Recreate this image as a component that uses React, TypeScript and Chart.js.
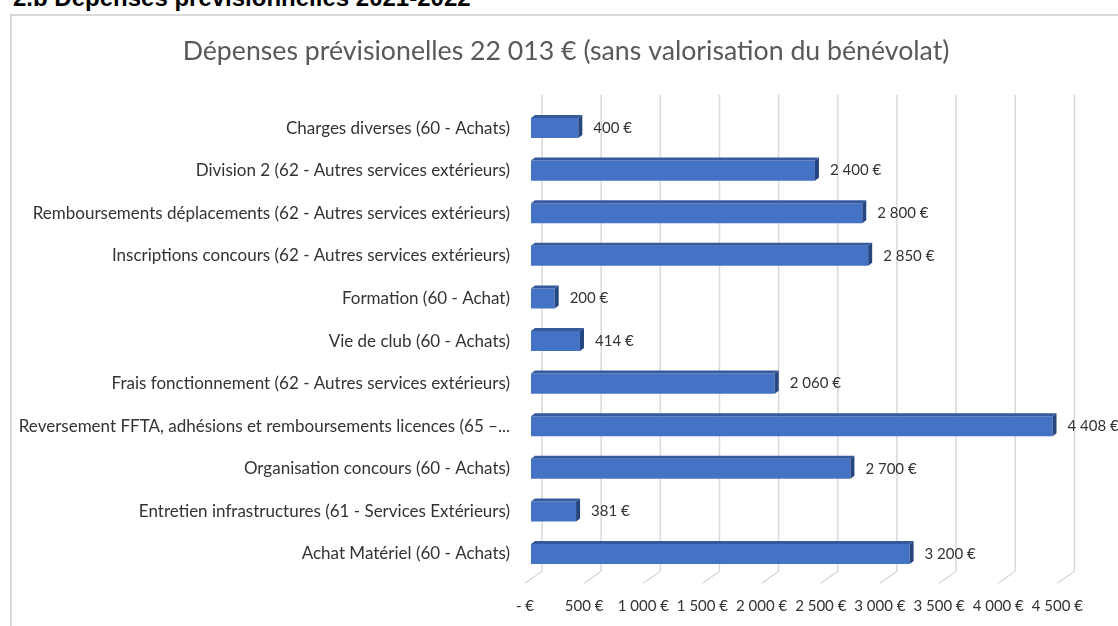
import React, { useEffect, useRef } from "react";
import { Chart, registerables } from "chart.js";

Chart.register(...registerables);

const pageHeading = "2.b Dépenses prévisionnelles 2021-2022";
const chartTitle = "Dépenses prévisionelles 22 013 € (sans valorisation du bénévolat)";

const categories = [
  "Charges diverses (60 - Achats)",
  "Division 2 (62 - Autres services extérieurs)",
  "Remboursements déplacements (62 - Autres services extérieurs)",
  "Inscriptions concours (62 - Autres services extérieurs)",
  "Formation (60 - Achat)",
  "Vie de club (60 - Achats)",
  "Frais fonctionnement (62 - Autres services extérieurs)",
  "Reversement FFTA, adhésions et remboursements licences (65 –...",
  "Organisation concours (60 - Achats)",
  "Entretien infrastructures (61 - Services Extérieurs)",
  "Achat Matériel (60 - Achats)",
];

const values = [400, 2400, 2800, 2850, 200, 414, 2060, 4408, 2700, 381, 3200];

const tickValues = [0, 500, 1000, 1500, 2000, 2500, 3000, 3500, 4000, 4500];
const tickLabels = [
  "- €",
  "500 €",
  "1 000 €",
  "1 500 €",
  "2 000 €",
  "2 500 €",
  "3 000 €",
  "3 500 €",
  "4 000 €",
  "4 500 €",
];

// the plot area runs on past the visible right edge (the chart box is cut off)
const X_MAX = 5080;

const FONT = "Lato";
const TEXT_COLOR = "#333333";
const NUM_SIZE = 15;
const CAT_SIZE = 17;

const CANVAS_W = 1132;
const CANVAS_H = 626;

function fmtEuro(v: number): string {
  return String(v).replace(/\B(?=(\d{3})+(?!\d))/g, " ") + " €";
}

const grid3d = {
  id: "grid3d",
  beforeDatasetsDraw(chart: any) {
    const { ctx, chartArea, scales } = chart;
    const x = scales.x;
    ctx.save();
    for (const v of tickValues) {
      const px = x.getPixelForValue(v);
      const bx = px + 11;
      ctx.strokeStyle = "#d9d9d9";
      ctx.lineWidth = 1.5;
      ctx.beginPath();
      ctx.moveTo(bx, chartArea.top - 12);
      ctx.lineTo(bx, chartArea.bottom - 4);
      ctx.stroke();
      ctx.strokeStyle = "#c4c4c4";
      ctx.lineWidth = 1;
      ctx.beginPath();
      ctx.moveTo(bx, chartArea.bottom - 4);
      ctx.lineTo(px - 6, chartArea.bottom + 8);
      ctx.stroke();
    }
    ctx.restore();
  },
};

const bar3d = {
  id: "bar3d",
  afterDatasetsDraw(chart: any) {
    const meta = chart.getDatasetMeta(0);
    const ctx = chart.ctx;
    ctx.save();
    meta.data.forEach((el: any, i: number) => {
      const { x, y, base, height } = el.getProps(["x", "y", "base", "height"], true);
      const top = y - height / 2;
      const bot = y + height / 2;
      const dx = 4;
      const dy = 3;
      ctx.fillStyle = "#35599c";
      ctx.beginPath();
      ctx.moveTo(base, top);
      ctx.lineTo(base + dx, top - dy);
      ctx.lineTo(x + dx, top - dy);
      ctx.lineTo(x, top);
      ctx.closePath();
      ctx.fill();
      ctx.fillStyle = "#26467f";
      ctx.beginPath();
      ctx.moveTo(x, top);
      ctx.lineTo(x + dx, top - dy);
      ctx.lineTo(x + dx, bot - dy);
      ctx.lineTo(x, bot);
      ctx.closePath();
      ctx.fill();
      ctx.fillStyle = TEXT_COLOR;
      ctx.font = `${NUM_SIZE}px ${FONT}`;
      ctx.textAlign = "left";
      ctx.textBaseline = "middle";
      ctx.fillText(fmtEuro(values[i]), x + 15, y);
    });
    ctx.restore();
  },
};

export default function App() {
  const canvasRef = useRef<HTMLCanvasElement | null>(null);

  useEffect(() => {
    const canvas = canvasRef.current;
    if (!canvas) return;
    const chart = new Chart(canvas, {
      type: "bar",
      data: {
        labels: categories,
        datasets: [
          {
            data: values,
            backgroundColor: "#4472c4",
            borderWidth: 0,
            barPercentage: 0.47,
            categoryPercentage: 1,
          },
        ],
      },
      options: {
        indexAxis: "y",
        animation: false,
        responsive: false,
        maintainAspectRatio: false,
        devicePixelRatio: 1,
        layout: { padding: { left: 0, right: 0, top: 0, bottom: 0 } },
        plugins: {
          legend: { display: false },
          tooltip: { enabled: false },
          title: {
            display: true,
            text: chartTitle,
            color: "#595959",
            font: { family: FONT, size: 26.7, weight: "normal", lineHeight: 1.2 },
            padding: { top: 35, bottom: 39.7 },
          },
        },
        scales: {
          x: {
            type: "linear",
            min: 0,
            max: X_MAX,
            afterBuildTicks: (scale: any) => {
              scale.ticks = tickValues.map((v) => ({ value: v }));
            },
            ticks: {
              autoSkip: false,
              maxRotation: 0,
              minRotation: 0,
              padding: 14,
              labelOffset: -6,
              color: TEXT_COLOR,
              font: { family: FONT, size: NUM_SIZE },
              callback: (_v: any, index: number) => tickLabels[index],
            },
            grid: { display: false },
            border: { display: false },
            afterFit: (scale: any) => {
              scale.height = 50.7;
            },
          },
          y: {
            ticks: {
              autoSkip: false,
              padding: 21,
              color: TEXT_COLOR,
              font: { family: FONT, size: CAT_SIZE },
            },
            grid: { display: false, drawTicks: false },
            border: { display: false },
            afterFit: (scale: any) => {
              scale.width = 531;
            },
          },
        },
      } as any,
      plugins: [grid3d, bar3d],
    });
    return () => chart.destroy();
  }, []);

  return (
    <div
      style={{
        position: "fixed",
        left: 0,
        top: 0,
        width: 1118,
        height: 626,
        overflow: "hidden",
        background: "#ffffff",
      }}
    >
      <div
        style={{
          position: "absolute",
          left: 10,
          top: 14,
          width: 1200,
          height: 700,
          border: "2px solid #d9d9d9",
          background: "#ffffff",
          boxSizing: "border-box",
        }}
      />
      <div
        style={{
          position: "absolute",
          left: 13,
          top: -14,
          fontFamily: "'Liberation Sans', Arial, sans-serif",
          fontWeight: "bold",
          fontSize: 24,
          lineHeight: "24px",
          color: "#000000",
          whiteSpace: "nowrap",
        }}
      >
        {pageHeading}
      </div>
      <canvas
        ref={canvasRef}
        width={CANVAS_W}
        height={CANVAS_H}
        style={{ position: "absolute", left: 0, top: 0, width: CANVAS_W, height: CANVAS_H }}
      />
    </div>
  );
}
